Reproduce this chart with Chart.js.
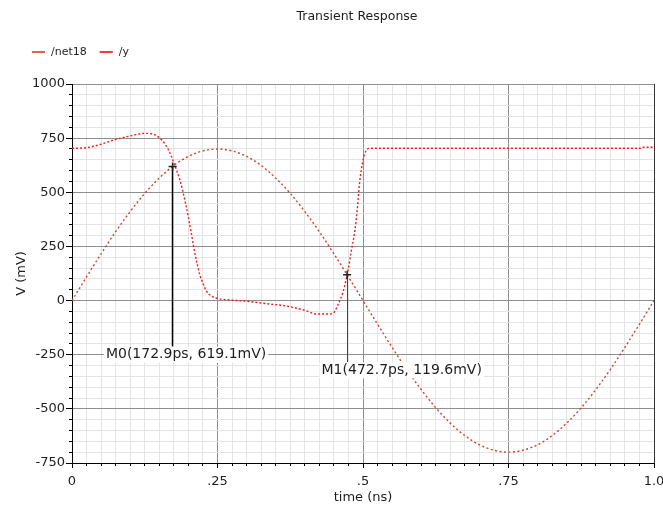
<!DOCTYPE html>
<html>
<head>
<meta charset="utf-8">
<title>Transient Response</title>
<script src="https://cdn.jsdelivr.net/npm/chart.js@4.4.1/dist/chart.umd.min.js"></script>
<style>
  html, body { margin: 0; padding: 0; background: #fff; }
  #wrap { width: 663px; height: 510px; }
</style>
</head>
<body>
<div id="wrap"><canvas id="transient"></canvas></div>
<script>
const Chart = window.Chart;

// series names (time in ns, voltage in mV)
const seriesNames = ['/net18', '/y'];

// /net18 - the sine input
const net18Times = [0, 0.025, 0.05, 0.075, 0.1, 0.125, 0.15, 0.175, 0.2, 0.225,
    0.25, 0.275, 0.3, 0.325, 0.35, 0.375, 0.4, 0.425, 0.45, 0.475,
    0.5, 0.525, 0.55, 0.575, 0.6, 0.625, 0.65, 0.675, 0.7, 0.725,
    0.75, 0.775, 0.8, 0.825, 0.85, 0.875, 0.9, 0.925, 0.95, 0.975, 1.0];
const net18Values = [0, 109, 216, 318, 411, 495, 566, 624, 666, 691,
    700, 691, 666, 624, 566, 495, 411, 318, 216, 109,
    0, -109, -216, -318, -411, -495, -566, -624, -666, -691,
    -700, -691, -666, -624, -566, -495, -411, -318, -216, -109, 0];

// /y - the output
const yTimes = [0, 0.025, 0.05, 0.075, 0.1, 0.12, 0.13, 0.14, 0.15, 0.16,
    0.17, 0.175, 0.18, 0.185, 0.19, 0.195, 0.2, 0.205, 0.21, 0.215,
    0.22, 0.225, 0.23, 0.24, 0.25, 0.27, 0.3, 0.34, 0.37, 0.4,
    0.42, 0.44, 0.449, 0.457, 0.466, 0.474, 0.48, 0.486, 0.49, 0.494,
    0.5, 0.506, 0.512, 0.6, 0.7, 0.8, 0.9, 0.977, 0.98, 1.0];
const yValues = [703, 706, 722, 744, 760, 771, 772, 768, 752, 722,
    672, 635, 600, 560, 510, 450, 385, 310, 235, 170,
    115, 80, 48, 20, 10, 3, -3, -16, -26, -45,
    -62, -62, -58, -19, 43, 136, 230, 323, 416, 540,
    648, 695, 703, 703, 703, 703, 703, 703, 708, 708];

// tick labels
const xTickValues = [0, 0.25, 0.5, 0.75, 1.0];
const xTickLabels = ['0', '.25', '.5', '.75', '1.0'];
const yTickValues = [-750, -500, -250, 0, 250, 500, 750, 1000];

// markers (time in ps, value in mV)
const markerNames = ['M0', 'M1'];
const markerTimes = [172.9, 472.7];
const markerValues = [619.1, 119.6];

// styling
const FONT = 'DejaVu Sans';
const TEXT = '#1e1e1e';
const lineColors = ['#c9452f', '#f21d1d'];
const legendColors = ['#e0654e', '#f23b3b'];
const markerStyle = [
    { labelT: 0.196, labelV: -250, color: '#000', width: 1.5 },
    { labelT: 0.5665, labelV: -322, color: '#444', width: 1 }
];

function isMajor(value, step) {
    const r = value / step;
    return Math.abs(r - Math.round(r)) < 1e-6;
}

function align(p) {
    return Math.round(p - 0.5) + 0.5;
}

// title + legend
const header = {
    id: 'header',
    afterDraw(chart) {
        const ctx = chart.ctx;
        ctx.save();
        ctx.fillStyle = TEXT;
        ctx.textBaseline = 'middle';
        ctx.textAlign = 'center';
        ctx.font = '12.5px "' + FONT + '"';
        ctx.fillText('Transient Response', 357, 17);

        ctx.textAlign = 'left';
        ctx.font = '11px "' + FONT + '"';
        let x = 32;
        const y = 52;
        chart.data.datasets.forEach((ds, i) => {
            ctx.strokeStyle = legendColors[i];
            ctx.lineWidth = 2;
            ctx.beginPath();
            ctx.moveTo(x, y);
            ctx.lineTo(x + 13, y);
            ctx.stroke();
            ctx.fillText(ds.label, x + 19, y);
            x += 19 + ctx.measureText(ds.label).width + 13;
        });
        ctx.restore();
    }
};

// small tick marks, long on major steps
const axisTicks = {
    id: 'axisTicks',
    afterDraw(chart) {
        const {ctx, chartArea, scales} = chart;
        ctx.save();
        ctx.strokeStyle = '#000';
        ctx.lineWidth = 1;
        ctx.beginPath();
        scales.x.ticks.forEach(t => {
            const px = align(scales.x.getPixelForValue(t.value));
            const len = isMajor(t.value, 0.25) ? 5 : 3;
            ctx.moveTo(px, chartArea.bottom);
            ctx.lineTo(px, chartArea.bottom + len);
        });
        scales.y.ticks.forEach(t => {
            const py = align(scales.y.getPixelForValue(t.value));
            const len = isMajor(t.value, 250) ? 6 : 3;
            ctx.moveTo(chartArea.left - len, py);
            ctx.lineTo(chartArea.left, py);
        });
        ctx.stroke();
        ctx.restore();
    }
};

// marker crosses, drop lines and labels
const markers = {
    id: 'markers',
    afterDatasetsDraw(chart) {
        const {ctx, scales} = chart;
        ctx.save();
        ctx.font = '14px "' + FONT + '"';
        ctx.textBaseline = 'middle';
        ctx.textAlign = 'center';
        markerNames.forEach((name, i) => {
            const st = markerStyle[i];
            const px = scales.x.getPixelForValue(markerTimes[i] / 1000);
            const py = scales.y.getPixelForValue(markerValues[i]);
            const lx = scales.x.getPixelForValue(st.labelT);
            const ly = scales.y.getPixelForValue(st.labelV);
            const text = name + '(' + markerTimes[i].toFixed(1) + 'ps, ' + markerValues[i].toFixed(1) + 'mV)';
            const w = ctx.measureText(text).width;

            ctx.strokeStyle = st.color;
            ctx.lineWidth = st.width;
            ctx.beginPath();
            ctx.moveTo(align(px), py);
            ctx.lineTo(align(px), ly - 8);
            ctx.stroke();

            ctx.fillStyle = '#fff';
            ctx.fillRect(lx - w / 2 - 2, ly - 8, w + 4, 16);
            ctx.fillStyle = TEXT;
            ctx.fillText(text, lx, ly);

            ctx.strokeStyle = '#222';
            ctx.lineWidth = 1.5;
            ctx.beginPath();
            ctx.moveTo(px - 4, py);
            ctx.lineTo(px + 4, py);
            ctx.moveTo(px, py - 4);
            ctx.lineTo(px, py + 4);
            ctx.stroke();
        });
        ctx.restore();
    }
};

function toPoints(xs, ys) {
    return xs.map((x, i) => ({ x: x, y: ys[i] }));
}

const canvas = document.getElementById('transient');

const chart = new Chart(canvas, {
    type: 'line',
    data: {
        datasets: [{
            label: seriesNames[0],
            data: toPoints(net18Times, net18Values),
            borderColor: lineColors[0],
            borderWidth: 1.4,
            borderDash: [2, 2.5],
            pointRadius: 0,
            cubicInterpolationMode: 'monotone'
        }, {
            label: seriesNames[1],
            data: toPoints(yTimes, yValues),
            borderColor: lineColors[1],
            borderWidth: 1.4,
            borderDash: [2, 2],
            pointRadius: 0,
            cubicInterpolationMode: 'monotone'
        }]
    },
    options: {
        animation: false,
        responsive: true,
        maintainAspectRatio: false,
        layout: {
            padding: { top: 84, left: 10, right: 9, bottom: 0 }
        },
        plugins: {
            legend: { display: false },
            title: { display: false },
            tooltip: { enabled: false }
        },
        scales: {
            x: {
                type: 'linear',
                min: 0,
                max: 1,
                ticks: {
                    stepSize: 0.025,
                    autoSkip: false,
                    maxRotation: 0,
                    padding: 11,
                    color: TEXT,
                    font: { family: FONT, size: 13 },
                    callback: function(value) {
                        const k = xTickValues.findIndex(t => Math.abs(t - value) < 1e-6);
                        return k < 0 ? '' : xTickLabels[k];
                    }
                },
                grid: {
                    drawTicks: false,
                    color: function(c) {
                        const v = c.tick ? c.tick.value : 0;
                        if (Math.abs(v - 1) < 1e-6) return '#333';
                        return isMajor(v, 0.25) ? '#8e8e8e' : '#e4e4e4';
                    }
                },
                border: { color: '#000', width: 1 },
                title: {
                    display: true,
                    text: 'time (ns)',
                    color: TEXT,
                    font: { family: FONT, size: 13 },
                    padding: { top: 0, bottom: 5 }
                },
                afterFit: function(scale) {
                    scale.height = 47;
                    scale.paddingLeft = 0;
                    scale.paddingRight = 0;
                }
            },
            y: {
                type: 'linear',
                min: -750,
                max: 1000,
                ticks: {
                    stepSize: 50,
                    autoSkip: false,
                    padding: 7,
                    color: TEXT,
                    font: { family: FONT, size: 13 },
                    callback: function(value) {
                        const v = Math.round(value);
                        return yTickValues.includes(v) ? String(v) : '';
                    }
                },
                grid: {
                    drawTicks: false,
                    color: function(c) {
                        const v = c.tick ? c.tick.value : 0;
                        return isMajor(v, 250) ? '#8e8e8e' : '#e4e4e4';
                    }
                },
                border: { color: '#000', width: 1 },
                title: {
                    display: true,
                    text: 'V (mV)',
                    color: TEXT,
                    font: { family: FONT, size: 13 },
                    padding: { top: 4, bottom: 0 }
                },
                afterFit: function(scale) {
                    scale.width = 62;
                    scale.paddingTop = 0;
                    scale.paddingBottom = 0;
                }
            }
        }
    },
    plugins: [header, axisTicks, markers]
});
</script>
</body>
</html>
